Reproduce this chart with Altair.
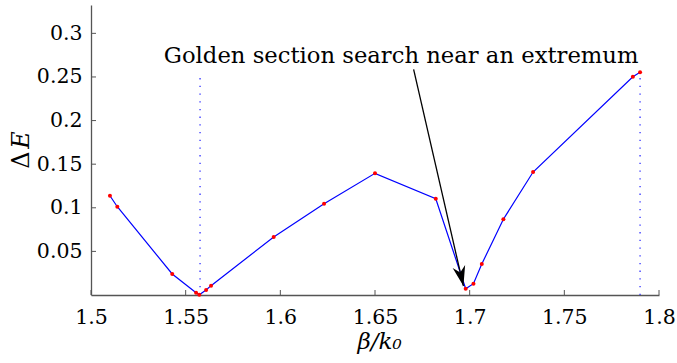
import altair as alt
import pandas as pd

# Sampled objective: energy mismatch versus normalised propagation constant
beta = [1.5100, 1.5139, 1.5429, 1.5555, 1.5572, 1.5608, 1.5634, 1.5965, 1.6231,
        1.6500, 1.6821, 1.6979, 1.7020, 1.7064, 1.7178, 1.7335, 1.7862, 1.7900]
delta_e = [0.1138, 0.1012, 0.0241, 0.0026, 0.0003, 0.0057, 0.0107, 0.0665, 0.1047,
           0.1395, 0.1104, 0.0072, 0.0130, 0.0355, 0.0868, 0.1410, 0.2503, 0.2553]

# Dotted markers at the located extrema
marker_beta = [1.5576, 1.7900]
marker_top = [0.252, 0.252]

x_ticks = [1.5, 1.55, 1.6, 1.65, 1.7, 1.75, 1.8]
y_ticks = [0.05, 0.1, 0.15, 0.2, 0.25, 0.3]

note_text = ["Golden section search near an extremum"]
note_beta = [1.6638]
note_de = [0.2665]
arrow_beta = [1.6704, 1.6967]
arrow_de = [0.2587, 0.0103]

FONT = "DejaVu Serif"
AXIS_COLOR = "#555555"

xs = alt.Scale(domain=[1.5, 1.8], nice=False, zero=False)
ys = alt.Scale(domain=[0, 0.3325], nice=False, zero=False)

x_axis = alt.Axis(
    values=x_ticks, format="~g", grid=False, ticks=False, tickSize=0,
    domainColor=AXIS_COLOR, domainWidth=1.3,
    labelFont=FONT, labelFontSize=20.5, labelColor="black",
    labelBaseline="alphabetic", labelPadding=28, labelFlush=False,
    title="β/k₀", titleFont=FONT, titleFontSize=23, titleFontStyle="italic",
    titleFontWeight="normal", titleColor="black", titleBaseline="alphabetic",
    titleX=288, titleY=53, titleAnchor="middle",
)
y_axis = alt.Axis(
    values=y_ticks, format="~g", grid=False, ticks=False, tickSize=0,
    domainColor=AXIS_COLOR, domainWidth=1.3,
    labelFont=FONT, labelFontSize=20.5, labelColor="black",
    labelBaseline="middle", labelPadding=9, labelFlush=False,
    title=None,
)

X = alt.X("beta:Q", scale=xs, axis=x_axis)
Y = alt.Y("dE:Q", scale=ys, axis=y_axis)

curve = pd.DataFrame({"beta": beta, "dE": delta_e})
markers = pd.DataFrame({"beta": marker_beta, "dE2": marker_top, "dE": [0.0, 0.0]})

guides = alt.Chart(markers).mark_rule(
    color="#3030ff", strokeWidth=1.3, strokeDash=[1.3, 6.4], opacity=1
).encode(x=X, y=Y, y2="dE2:Q")

line = alt.Chart(curve).mark_line(color="#0000ff", strokeWidth=1.2).encode(x=X, y=Y)

dots = alt.Chart(curve).mark_circle(color="#ff0000", size=16, opacity=1).encode(x=X, y=Y)

# Inward-pointing tick marks
xt = alt.Chart(pd.DataFrame({"beta": x_ticks})).mark_rule(
    color=AXIS_COLOR, strokeWidth=1
).encode(x=X, y=alt.value(285), y2=alt.value(290))
yt = alt.Chart(pd.DataFrame({"dE": y_ticks})).mark_rule(
    color=AXIS_COLOR, strokeWidth=1
).encode(y=Y, x=alt.value(0), x2=alt.value(5))

# Annotation arrow and label
arrow_df = pd.DataFrame({"beta": arrow_beta, "dE": arrow_de, "k": [0, 1]})
shaft = alt.Chart(arrow_df).mark_line(color="black", strokeWidth=1.3).encode(
    x=X, y=Y, order="k:O"
)
head = alt.Chart(arrow_df.iloc[[1]]).mark_point(
    shape="M0,0 L-0.32,-1 L0,-0.7 L0.32,-1 Z",
    size=1600, filled=True, color="black", opacity=1, strokeWidth=0, angle=346.9,
).encode(x=X, y=Y)
note = alt.Chart(pd.DataFrame({"t": note_text, "beta": note_beta, "dE": note_de})).mark_text(
    font=FONT, fontSize=22.7, color="black", align="center", baseline="alphabetic"
).encode(x=X, y=Y, text="t:N")

# y-axis title: upright Delta followed by italic E, rotated
ytitle_delta = alt.Chart(pd.DataFrame({"t": ["Δ"]})).mark_text(
    font=FONT, fontSize=24, color="black", angle=270, align="center", baseline="middle"
).encode(x=alt.value(-69), y=alt.value(155), text="t:N")
ytitle_e = alt.Chart(pd.DataFrame({"t": ["E"]})).mark_text(
    font=FONT, fontSize=24, fontStyle="italic", color="black", angle=270,
    align="center", baseline="middle"
).encode(x=alt.value(-69), y=alt.value(135), text="t:N")

chart = alt.layer(
    guides, line, dots, xt, yt, shaft, head, note, ytitle_delta, ytitle_e
).properties(
    width=568, height=290,
    padding={"left": 91, "top": 5, "right": 18, "bottom": 68},
    autosize="none",
    background="white",
).configure_view(stroke=None)

chart.save("out.html", embed_options={"renderer": "svg", "actions": False})
